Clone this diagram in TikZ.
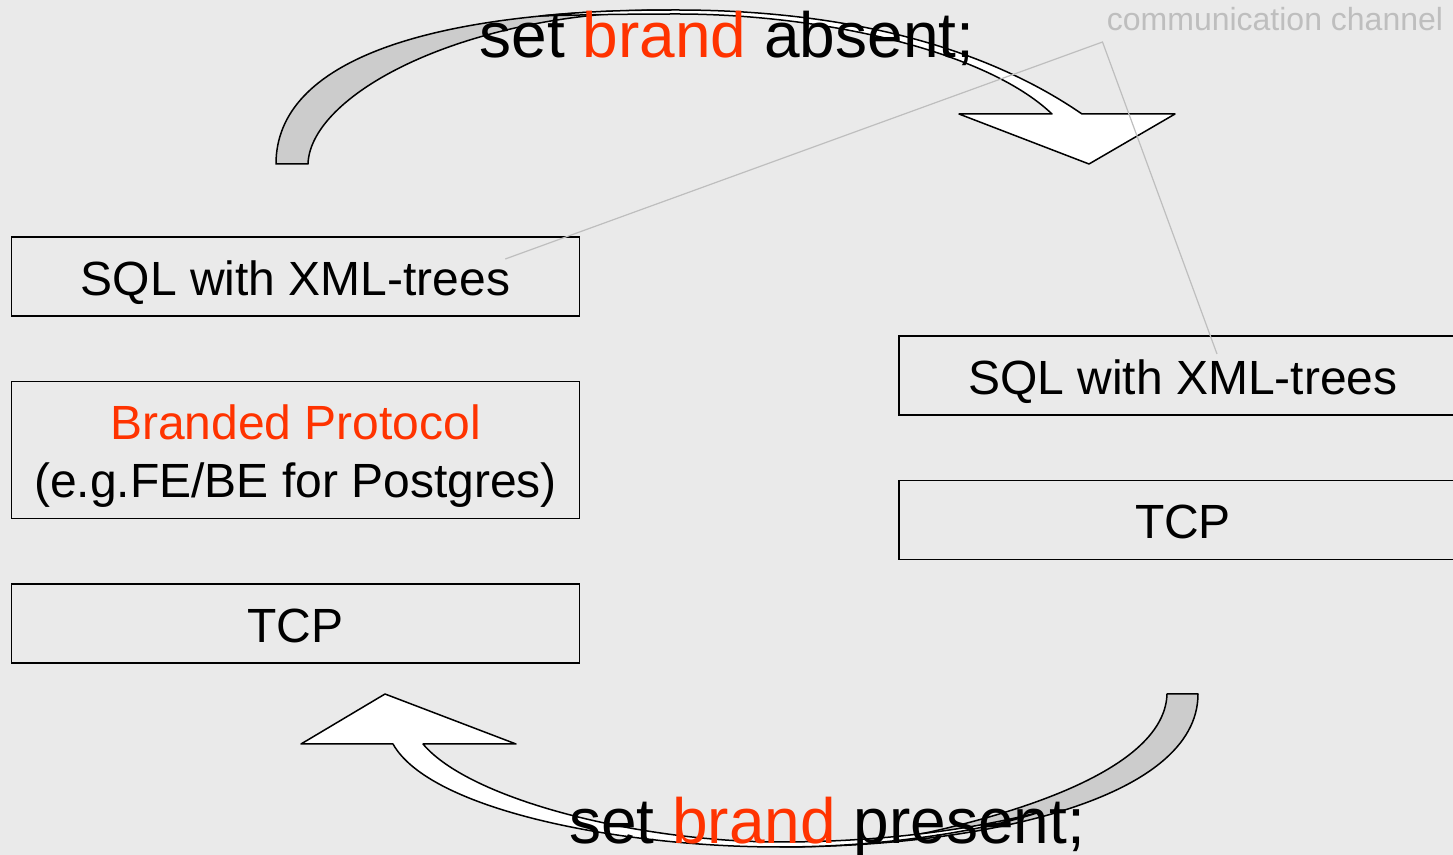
\documentclass[tikz,border=0pt]{standalone}
\usepackage{fontspec}
\setmainfont{Liberation Sans}
\usetikzlibrary{positioning}

\definecolor{bgcol}{RGB}{234,234,234}
\definecolor{brandred}{RGB}{255,51,0}
\definecolor{backcol}{RGB}{204,204,204}
\definecolor{chancol}{RGB}{190,190,190}

\begin{document}
\begin{tikzpicture}[
    x=0.5pt, y=-0.5pt,
    node distance=32pt,
    layerbox/.style={rectangle, draw, line width=0.75pt, minimum width=284pt, minimum height=39.5pt, align=center, inner sep=0pt, font=\fontsize{24}{29}\selectfont},
    onelayer/.style={layerbox, text height=20pt, text depth=1pt},
    cmdtext/.style={anchor=base, inner sep=0pt, font=\fontsize{32}{38}\selectfont},
    chantext/.style={anchor=base, inner sep=0pt, text=chancol, font=\fontsize{16}{19}\selectfont},
    backband/.style={draw, line width=0.75pt, line join=round, fill=backcol},
    faceband/.style={draw, line width=0.75pt, line join=round, fill=white},
    chanline/.style={draw=chancol, line width=0.6pt}
]

% Background
\useasboundingbox (0,0) rectangle (1453,855);
\fill[bgcol] (0,0) rectangle (1453,855);

% Upper curved arrow
\filldraw[backband] (276,164) .. controls (276,60) and (430,10) .. (677,10)
    .. controls (650,10) and (630,12) .. (620,13)
    .. controls (440,25) and (310,100) .. (308,164) -- cycle;
\filldraw[faceband] (540,16) .. controls (590,11) and (630,10) .. (677,10)
    .. controls (800,10) and (960,30) .. (1082,114)
    -- (1175,114) -- (1089,164) -- (959,114) -- (1052,114)
    .. controls (985,50) and (820,14) .. (677,14)
    .. controls (620,14) and (575,15) .. (540,16) -- cycle;

% Lower curved arrow
\filldraw[backband] (1198,694) .. controls (1198,800) and (980,847) .. (780,847)
    .. controls (850,846) and (900,838) .. (930,832)
    .. controls (1050,805) and (1165,760) .. (1167,694) -- cycle;
\filldraw[faceband] (1040,812) .. controls (980,832) and (880,847) .. (780,847)
    .. controls (620,847) and (430,810) .. (393,744)
    -- (301,744) -- (385,694) -- (516,744) -- (423,744)
    .. controls (470,800) and (640,842) .. (780,842)
    .. controls (880,842) and (970,830) .. (1040,812) -- cycle;

% Left stack
\node[onelayer] (lsql) at (295.5,276.5) {SQL with XML-trees};
\node[layerbox, minimum height=68.5pt, below=of lsql] (lbrand) {\rule{0pt}{23.5pt}\textcolor{brandred}{Branded Protocol}\\(e.g.FE/BE for Postgres)};
\node[onelayer, below=of lbrand] (ltcp) {TCP};

% Right stack
\node[onelayer] (rsql) at (1183,375.5) {SQL with XML-trees};
\node[onelayer, below=of rsql] (rtcp) {TCP};

% Arrow captions
\node[cmdtext] (absent) at (727,58) {set \textcolor{brandred}{brand} absent;};
\node[cmdtext] (present) at (827,843) {set \textcolor{brandred}{brand} present;};

% Communication channel
\node[chantext] (chanlabel) at (1275,31) {communication channel};
\coordinate (chanpt) at ([xshift=-2pt,yshift=-5.5pt]chanlabel.base west);
\coordinate (lend) at ([xshift=-37.5pt,yshift=8.75pt]lsql.east);
\coordinate (rend) at ([xshift=17pt,yshift=10.75pt]rsql.center);
\draw[chanline] (lend) -- (chanpt) -- (rend);

\end{tikzpicture}
\end{document}
